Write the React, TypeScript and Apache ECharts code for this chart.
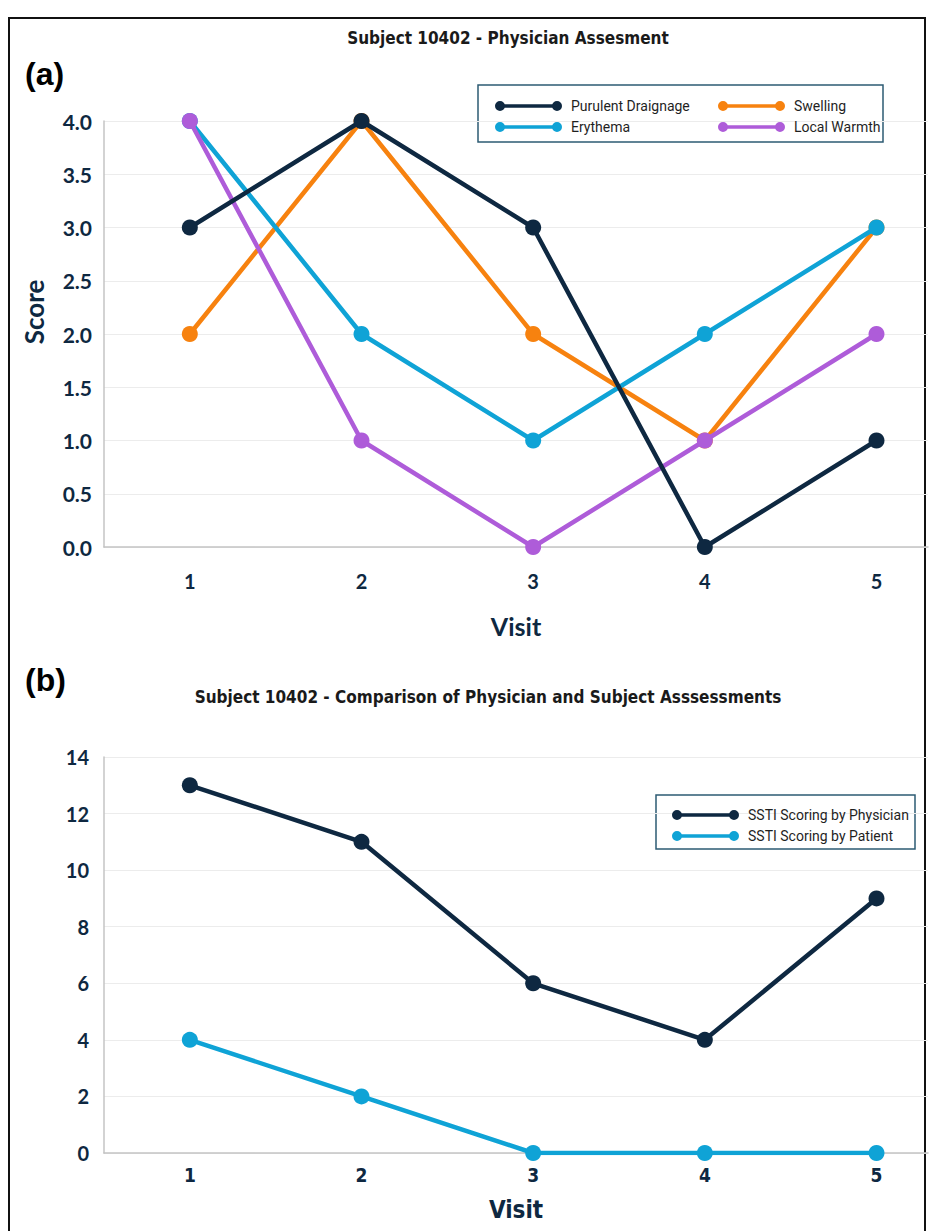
import React, { useEffect, useRef } from "react";
import * as echarts from "echarts";

// ---------- data ----------
const visits = [1, 2, 3, 4, 5];
const purulentDrainage = [3, 4, 3, 0, 1];
const erythema = [4, 2, 1, 2, 3];
const swelling = [2, 4, 2, 1, 3];
const localWarmth = [4, 1, 0, 1, 2];
const physicianTotal = [13, 11, 6, 4, 9];
const patientTotal = [4, 2, 0, 0, 0];

const titleA = "Subject 10402 - Physician Assesment";
const titleB = "Subject 10402 - Comparison of Physician and Subject Asssessments";
const legendA1 = ["Purulent Draignage", "Erythema"];
const legendA2 = ["Swelling", "Local Warmth"];
const legendB = ["SSTI Scoring by Physician", "SSTI Scoring by Patient"];

// ---------- styles ----------
const NAVY = "#0e2841";
const CYAN = "#0fa3d6";
const ORANGE = "#f7820f";
const PURPLE = "#ae5cd9";
const GRID = "#ececec";
const AXIS = "#c4c4c4";
const GEO = "Lato, 'Noto Sans', sans-serif";
const NARROW = "'Liberation Sans Narrow', 'DejaVu Sans Condensed', Roboto, sans-serif";
const LEG_ICON =
  "path://M0,5A5,5 0 1,1 10,5A5,5 0 1,1 0,5Z M57,5A5,5 0 1,1 67,5A5,5 0 1,1 57,5Z M5,3.2L62,3.2L62,6.8L5,6.8Z";

const pairs = (ys: number[]) => visits.map((v, i) => [v, ys[i]]);

const lineSeries = (name: string, ys: number[], color: string, idx: number, z: number) => ({
  name,
  type: "line",
  xAxisIndex: idx,
  yAxisIndex: idx,
  data: pairs(ys),
  symbol: "circle",
  symbolSize: 16,
  z,
  lineStyle: { color, width: 4.5 },
  itemStyle: { color },
  emphasis: { disabled: true },
});

const xAxisFor = (idx: number, labelMargin: number, nameGap: number, font: string, labelSize: number, nameSize: number) => ({
  gridIndex: idx,
  type: "value",
  min: 0.5,
  max: 5.3,
  interval: 0.5,
  axisLine: { show: true, lineStyle: { color: AXIS, width: 1.5 } },
  axisTick: { show: false },
  splitLine: { show: false },
  axisLabel: {
    formatter: (v: number) => (Number.isInteger(v) ? String(v) : ""),
    margin: labelMargin,
    fontSize: labelSize,
    fontWeight: "bold",
    fontFamily: font,
    color: NAVY,
    showMaxLabel: false,
  },
  name: "Visit",
  nameLocation: "middle",
  nameGap,
  nameTextStyle: { fontSize: nameSize, fontWeight: "bold", fontFamily: font, color: NAVY },
});

const legendFor = (data: string[], left: number, top: number, fontSize: number) => ({
  data,
  orient: "vertical",
  left,
  top,
  icon: LEG_ICON,
  itemWidth: 67,
  itemHeight: 10,
  itemGap: 7,
  selectedMode: false,
  textStyle: { fontSize, fontFamily: "Roboto, sans-serif", color: "#1f1f1f", lineHeight: 14, padding: [0, 0, 0, 4] },
});

export default function App() {
  const ref = useRef<HTMLDivElement>(null);

  useEffect(() => {
    document.body.style.margin = "0";
    if (!ref.current) return;
    const chart = echarts.init(ref.current, undefined, { renderer: "svg" });
    chart.setOption({
      animation: false,
      backgroundColor: "#ffffff",
      grid: [
        { left: 104, right: 6, top: 121, height: 426 },
        { left: 104, right: 6, top: 757, height: 396 },
      ],
      xAxis: [xAxisFor(0, 24, 66, GEO, 20, 25), xAxisFor(1, 12, 45, NARROW, 19, 24)],
      yAxis: [
        {
          gridIndex: 0,
          type: "value",
          min: 0,
          max: 4,
          interval: 0.5,
          axisLine: { show: true, lineStyle: { color: AXIS, width: 1.5 } },
          axisTick: { show: false },
          splitLine: { show: true, lineStyle: { color: GRID, width: 1 } },
          axisLabel: {
            formatter: (v: number) => v.toFixed(1),
            margin: 12,
            fontSize: 21,
            fontWeight: "bold",
            fontFamily: GEO,
            color: NAVY,
          },
        },
        {
          gridIndex: 1,
          type: "value",
          min: 0,
          max: 14,
          interval: 2,
          axisLine: { show: true, lineStyle: { color: AXIS, width: 1.5 } },
          axisTick: { show: false },
          splitLine: { show: true, lineStyle: { color: GRID, width: 1 } },
          axisLabel: {
            margin: 15,
            fontSize: 20,
            fontWeight: "bold",
            fontFamily: GEO,
            color: NAVY,
          },
        },
      ],
      legend: [
        legendFor(legendA1, 490, 94, 14),
        legendFor(legendA2, 713, 94, 14),
        legendFor(legendB, 667, 803, 14),
      ],
      series: [
        lineSeries("Swelling", swelling, ORANGE, 0, 2),
        lineSeries("Erythema", erythema, CYAN, 0, 3),
        lineSeries("Local Warmth", localWarmth, PURPLE, 0, 4),
        lineSeries("Purulent Draignage", purulentDrainage, NAVY, 0, 5),
        lineSeries("SSTI Scoring by Patient", patientTotal, CYAN, 1, 3),
        lineSeries("SSTI Scoring by Physician", physicianTotal, NAVY, 1, 4),
      ],
      graphic: [
        {
          type: "rect",
          shape: { x: 9, y: 18, width: 916, height: 1240 },
          style: { fill: "none", stroke: "#111", lineWidth: 2 },
          silent: true,
        },
        {
          type: "rect",
          shape: { x: 478, y: 85, width: 405, height: 57 },
          style: { fill: "none", stroke: "#2d5b73", lineWidth: 1.5 },
          silent: true,
        },
        {
          type: "rect",
          shape: { x: 656, y: 795, width: 259, height: 54 },
          style: { fill: "none", stroke: "#2d5b73", lineWidth: 1.5 },
          silent: true,
        },
        {
          type: "text",
          x: 25,
          y: 74,
          style: { text: "(a)", fontSize: 32, fontWeight: "bold", fontFamily: "'Liberation Sans', Arial, sans-serif", fill: "#000", verticalAlign: "middle" },
        },
        {
          type: "text",
          x: 25,
          y: 680,
          style: { text: "(b)", fontSize: 32, fontWeight: "bold", fontFamily: "'Liberation Sans', Arial, sans-serif", fill: "#000", verticalAlign: "middle" },
        },
        {
          type: "text",
          x: 508,
          y: 38,
          style: { text: titleA, fontSize: 17, fontWeight: "bold", fontFamily: NARROW, fill: "#1a1a1a", align: "center", verticalAlign: "middle" },
        },
        {
          type: "text",
          x: 488,
          y: 697,
          style: { text: titleB, fontSize: 17, fontWeight: "bold", fontFamily: NARROW, fill: "#1a1a1a", align: "center", verticalAlign: "middle" },
        },
        {
          type: "text",
          x: 34,
          y: 312,
          rotation: Math.PI / 2,
          style: { text: "Score", fontSize: 26, fontWeight: "bold", fontFamily: GEO, fill: NAVY, align: "center", verticalAlign: "middle" },
        },
      ],
    });
    return () => chart.dispose();
  }, []);

  return <div ref={ref} style={{ width: 934, height: 1231 }} />;
}
